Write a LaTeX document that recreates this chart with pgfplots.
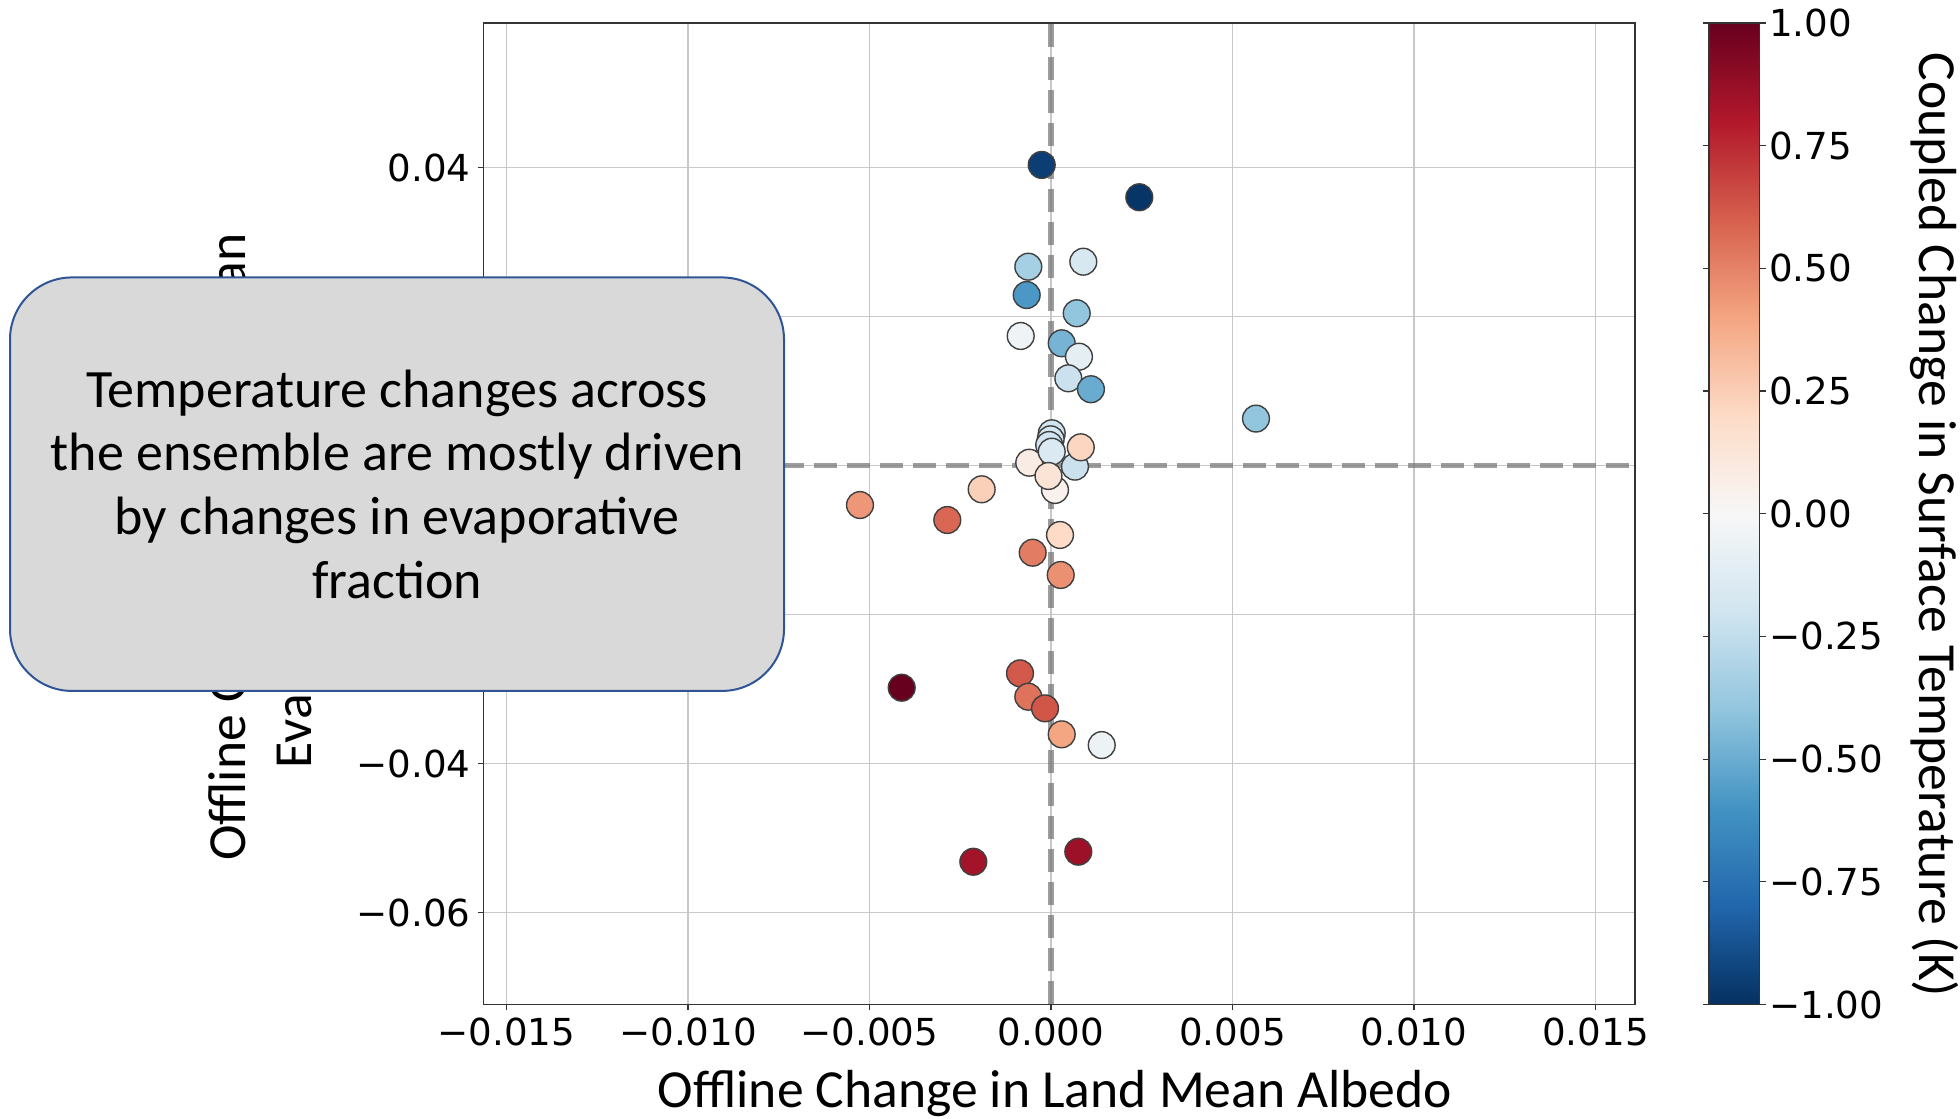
\documentclass[border=0pt]{standalone}
\usepackage{fontspec}
\setmainfont{Carlito}
\newfontfamily\tickfont{DejaVu Sans}
\usepackage{pgfplots}
\pgfplotsset{compat=1.18}
\definecolor{boxgray}{HTML}{D9D9D9}
\definecolor{boxblue}{HTML}{2F5597}
\definecolor{gridc}{HTML}{C8C8C8}
\pgfplotstableread{
x y c
-0.000256 0.04037 -0.95
0.002433 0.03603 -0.98
-0.000625 0.02671 -0.34
0.00089 0.02738 -0.17
-0.00067 0.02291 -0.58
0.000708 0.02046 -0.40
-0.000835 0.01741 -0.04
0.000295 0.01643 -0.47
0.00077 0.01463 -0.10
0.000477 0.01173 -0.22
0.0011 0.01026 -0.50
0.005647 0.00632 -0.40
0.00066 -0.00013 -0.22
0.00082 0.00247 0.22
0.00002 0.00435 -0.20
-0.00001 0.00354 -0.18
-0.00005 0.00278 -0.20
-0.0006 0.0004 0.08
0.00002 0.00188 -0.15
0.00011 -0.00326 0.04
-0.00007 -0.00138 0.14
0.000248 -0.0093 0.20
-0.005262 -0.00528 0.44
-0.002857 -0.00729 0.58
-0.00191 -0.00317 0.24
-0.000505 -0.01168 0.52
0.000267 -0.01467 0.46
-0.004113 -0.0298 1.00
-0.000854 -0.02787 0.62
-0.000625 -0.03101 0.55
-0.000165 -0.03257 0.63
0.000295 -0.03606 0.40
0.001397 -0.0375 -0.05
-0.00214 -0.05316 0.84
0.000752 -0.05181 0.86
}\pts
\begin{document}
\begin{tikzpicture}
\path[use as bounding box] (0,0) rectangle (980pt,559.5pt);
\begin{axis}[
  at={(241.85pt,57.25pt)}, anchor=south west,
  scale only axis, width=575.65pt, height=490.75pt,
  xmin=-0.015628, xmax=0.016088, ymin=-0.07232, ymax=0.05942,
  scaled ticks=false,
  xtick={-0.015,-0.01,-0.005,0,0.005,0.01,0.015},
  xticklabels={−0.015,−0.010,−0.005,0.000,0.005,0.010,0.015},
  ytick={-0.06,-0.04,-0.02,0,0.02,0.04},
  yticklabels={−0.06,−0.04,−0.02,0.00,0.02,0.04},
  xtick pos=left, ytick pos=left,
  grid=major, major grid style={gridc, line width=0.6pt},
  axis line style={black!80, line width=0.6pt},
  tick align=outside, major tick length=3pt, tick style={black!80, line width=0.6pt},
  ticklabel style={font=\tickfont\fontsize{18.6}{22}\selectfont},
  colormap={rdbur}{rgb255(0)=(5,48,97) rgb255(1)=(33,102,172) rgb255(2)=(67,147,195) rgb255(3)=(146,197,222) rgb255(4)=(209,229,240) rgb255(5)=(247,247,247) rgb255(6)=(253,219,199) rgb255(7)=(244,165,130) rgb255(8)=(214,96,77) rgb255(9)=(178,24,43) rgb255(10)=(103,0,31)},
  point meta min=-1, point meta max=1,
  colorbar,
  colorbar/width=25.4pt,
  colorbar style={
    at={(parent axis.north east)}, anchor=north west, xshift=28.5pt,
    scale only axis, width=25.4pt, height=490.75pt,
    ytick={-1,-0.75,-0.5,-0.25,0,0.25,0.5,0.75,1},
    yticklabels={−1.00,−0.75,−0.50,−0.25,0.00,0.25,0.50,0.75,1.00},
    yticklabel style={font=\tickfont\fontsize{18.6}{22}\selectfont, inner xsep=0pt, xshift=1.5pt},
    tick align=outside, major tick length=3pt,
    tick style={black!80, line width=0.6pt},
    axis line style={black!80, line width=0.6pt},
  },
]
\addplot[scatter, only marks, mark=*, mark size=6.7pt, point meta=explicit,
  scatter/use mapped color={draw=black!75, fill=mapped color}, line width=0.7pt]
  table[x=x, y=y, meta=c] {\pts};
\addplot[draw=black!55, opacity=0.7, line width=2.8pt, dash pattern=on 11.5pt off 5pt]
  coordinates {(0,-0.07232) (0,0.05942)};
\addplot[draw=black!55, opacity=0.7, line width=2.8pt, dash pattern=on 11.5pt off 5pt]
  coordinates {(-0.015628,0) (0.016088,0)};
\end{axis}
\node[anchor=base, font=\fontsize{26.8}{32}\selectfont] at (527.5pt,5.5pt) {Offline Change in Land Mean Albedo};
\node[rotate=90, align=center, font=\fontsize{26.8}{33}\selectfont] at (132pt,286pt) {Offline Change in Land Mean\\Evaporative Fraction};
\node[rotate=-90, font=\fontsize{26.8}{32}\selectfont] at (967pt,297pt) {Coupled Change in Surface Temperature (K)};
\node[draw=boxblue, fill=boxgray, line width=1pt, rounded corners=31pt, minimum width=387pt, minimum height=206.75pt] at (198.5pt,317.4pt) {};
\node[align=center, font=\fontsize{27}{31.9}\selectfont] at (198.5pt,317.4pt) {Temperature changes across\\the ensemble are mostly driven\\by changes in evaporative\\fraction};
\end{tikzpicture}
\end{document}
